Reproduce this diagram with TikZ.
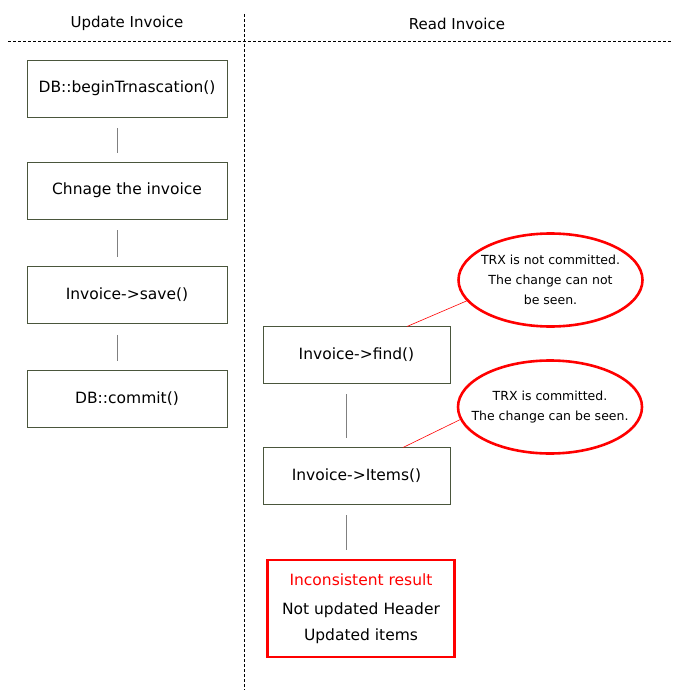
\documentclass[tikz,border=0pt]{standalone}
\usepackage{fontspec}
\setmainfont{DejaVu Sans}
\usetikzlibrary{shapes.geometric}

\definecolor{boxedge}{RGB}{74,86,60}
\definecolor{linkgray}{RGB}{128,128,128}
\definecolor{alertred}{RGB}{255,0,0}

\begin{document}
\begin{tikzpicture}[x=1pt, y=-1pt,
    stepbox/.style={draw=boxedge, line width=0.8pt, minimum width=200pt, minimum height=57pt, inner sep=0pt, font=\fontsize{15.5}{18}\selectfont},
    readbox/.style={stepbox, minimum width=187pt},
    link/.style={draw=linkgray, line width=0.8pt, shorten <=11pt, shorten >=9pt},
    note/.style={ellipse, draw=alertred, line width=2.6pt, minimum width=184pt, minimum height=93pt, inner xsep=-16pt, inner ysep=0pt, align=center, font=\fontsize{12.5}{20}\selectfont},
    callout/.style={draw=alertred, line width=0.6pt},
    lane/.style={dash pattern=on 3pt off 2pt, line width=0.7pt}]
        \useasboundingbox (0,0) rectangle (680,700);

        % Draw lanes
        \draw[lane] (8,41) -- (672,41);
        \draw[lane] (244,14) -- (244,690);
        \node[font=\fontsize{15}{18}\selectfont] (updlane) at (127,23) {Update Invoice};
        \node[font=\fontsize{15}{18}\selectfont] (readlane) at (457,24) {Read Invoice};

        % Update side
        \node[stepbox] (begin) at (127,88.5) {DB::beginTrnascation()};
        \node[stepbox] (change) at (127,190.5) {Chnage the invoice};
        \node[stepbox] (save) at (127,295) {Invoice->save()};
        \node[stepbox] (commit) at (127,398.5) {DB::commit()};
        \draw[link] ([xshift=-10pt]begin.south) -- ([xshift=-10pt]change.north);
        \draw[link] ([xshift=-10pt]change.south) -- ([xshift=-10pt]save.north);
        \draw[link] ([xshift=-10pt]save.south) -- ([xshift=-10pt]commit.north);

        % Read side
        \node[readbox] (find) at (356.5,354.5) {Invoice->find()};
        \node[readbox] (items) at (356.5,475.5) {Invoice->Items()};
        \node[draw=alertred, line width=2.6pt, minimum width=187pt, minimum height=97pt, inner sep=0pt, align=center,
              font=\fontsize{15.5}{26}\selectfont] (result) at (361,608.5)
            {\textcolor{alertred}{Inconsistent result}\\[3pt]Not updated Header\\Updated items};
        \draw[link] ([xshift=-10pt]find.south) -- ([xshift=-10pt]items.north);
        \draw[link] ([xshift=-10pt]items.south) -- ([xshift=-10pt]items.south |- result.north);

        % Mark the notes
        \node[note] (notyet) at (550.5,280) {\mbox{}\\[-10pt]TRX is not committed.\\The change can not\\be seen.};
        \node[note] (done) at (550,407) {TRX is committed.\\The change can be seen.};
        \coordinate (findhook) at (407,326.5);
        \coordinate (itemshook) at (403,447.5);
        \draw[callout] (notyet.194) -- (findhook);
        \draw[callout] (done.188) -- (itemshook);
    \end{tikzpicture}
\end{document}
